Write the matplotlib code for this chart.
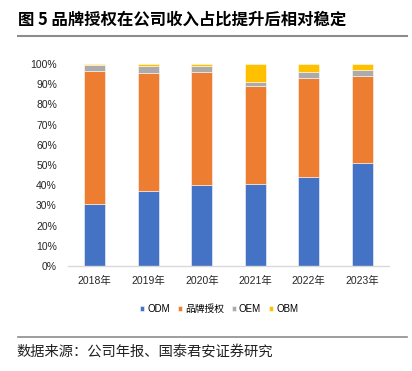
import matplotlib
matplotlib.use('Agg')
import matplotlib.pyplot as plt
import numpy as np

plt.rcParams['font.family'] = ['Liberation Sans', 'Noto Sans CJK SC', 'DejaVu Sans']

# data (share of revenue, %)
years = ['2018年', '2019年', '2020年', '2021年', '2022年', '2023年']
odm = [30.9, 36.9, 40.3, 40.7, 44.3, 51.1]
brand = [65.4, 58.5, 55.6, 48.3, 48.7, 43.0]
oem = [3.2, 3.8, 2.9, 2.2, 3.1, 3.0]
obm = [0.5, 0.8, 1.2, 8.8, 3.9, 2.9]

series = [('ODM', odm, '#4472C4'), ('品牌授权', brand, '#ED7D31'),
          ('OEM', oem, '#ABABAB'), ('OBM', obm, '#FFC000')]

fig = plt.figure(figsize=(4.12, 3.71), dpi=100)
ax = fig.add_axes([68/412, 1-266/371, 321/412, 202/371])

x = np.arange(len(years))
bottom = np.zeros(len(years))
for name, vals, col in series:
    v = np.array(vals) / 100
    ax.bar(x, v, 0.39, bottom=bottom, color=col, label=name,
           edgecolor=(1, 1, 1, 0.6), linewidth=0.6)
    bottom += v

ax.set_xlim(-0.5, len(years) - 0.5)
ax.set_ylim(0, 1)
ax.set_yticks(np.arange(0, 1.01, 0.1))
ax.set_yticklabels(['{}%'.format(i * 10) for i in range(11)])
ax.set_xticks(x)
ax.set_xticklabels(years)
ax.tick_params(axis='both', length=0, labelsize=7.5, colors='#262626')
ax.tick_params(axis='y', pad=8)
ax.tick_params(axis='x', pad=7)
for s in ['top', 'right', 'left']:
    ax.spines[s].set_visible(False)
ax.spines['bottom'].set_color('#D9D9D9')
ax.spines['bottom'].set_linewidth(1)

ax.legend(loc='center', bbox_to_anchor=(219/412, 1-309/371), bbox_transform=fig.transFigure,
          ncol=4, frameon=False, fontsize=7, handlelength=0.45, handleheight=0.45,
          handletextpad=0.3, columnspacing=0.8)

fig.text(18/412, 1-20/371, '图 5 品牌授权在公司收入占比提升后相对稳定', fontsize=11.8,
         fontweight='bold', family=['Noto Sans CJK SC'], va='center', ha='left')
fig.add_artist(plt.Line2D([18/412, 407/412], [1-36/371, 1-36/371], color='#8C8C8C', linewidth=1.5))
fig.add_artist(plt.Line2D([18/412, 407/412], [1-337/371, 1-337/371], color='#8C8C8C', linewidth=1.2))
fig.text(16/412, 1-352/371, '数据来源：公司年报、国泰君安证券研究', fontsize=10.3,
         family=['Noto Sans CJK SC'], va='center', ha='left', color='#222222')

fig.savefig('out.png', dpi=100)
